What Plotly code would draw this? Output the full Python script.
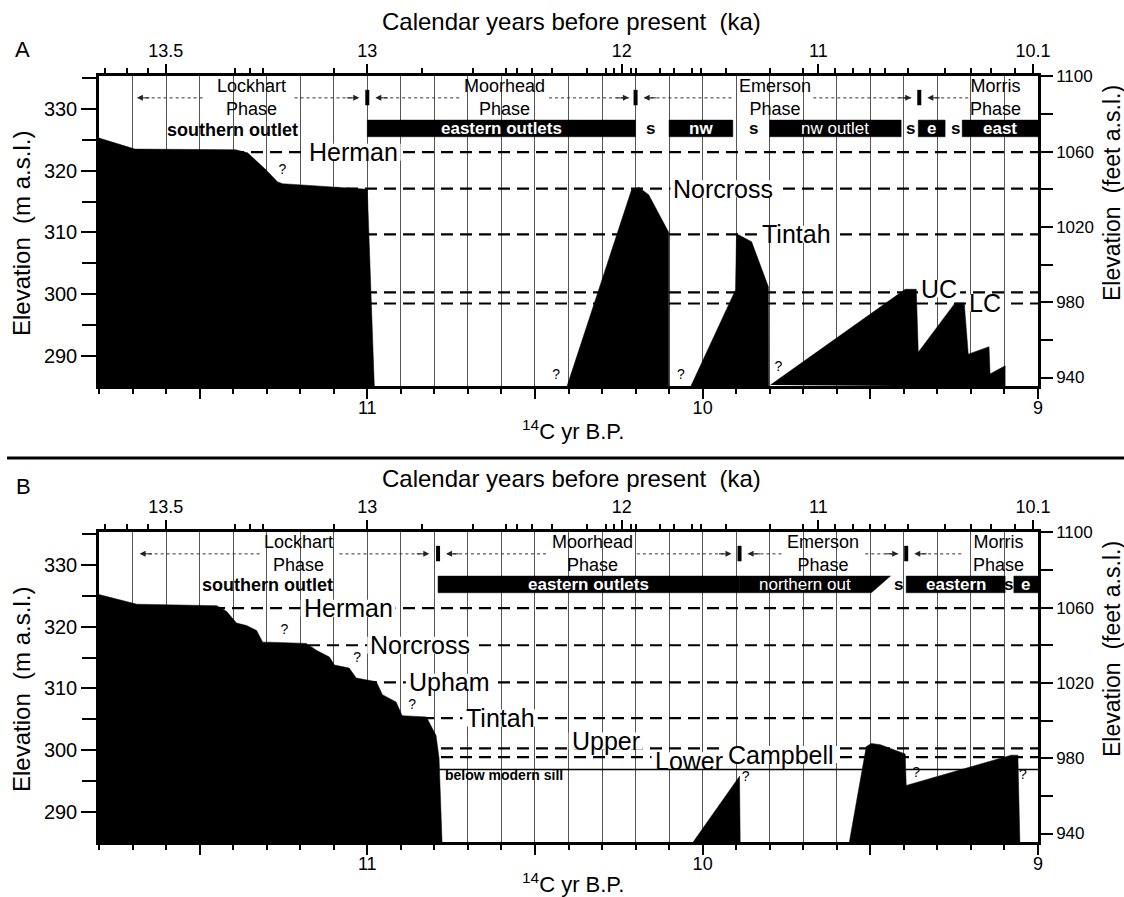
import plotly.graph_objects as go

# ------------------------------------------------------------------ data
# bottom axis: radiocarbon years BP
c14_tick_vals = [11500, 11000, 10500, 10000, 9500, 9000]
c14_tick_text = ["", "11", "", "10", "", "9"]

# top axis: calendar ages (ka), positioned on the 14C scale
cal_label_pos = [11601, 11000, 10241, 9655, 9015]
cal_label_text = ["13.5", "13", "12", "11", "10.1"]
cal_minor_pos = [11783, 11717, 11655, 11393, 11351, 11312, 11098,
                 10836, 10685, 10586, 10554, 10509, 10449, 10345, 10289,
                 10265, 10214, 10199, 10128, 10086, 10033, 10006, 9929,
                 9798, 9700, 9604, 9551, 9500, 9455, 9387, 9277, 9200,
                 9140, 9069]

m_tick_vals = [290, 300, 310, 320, 330]
ft_tick_vals = [940, 980, 1020, 1060, 1100]

phase_names = ["Lockhart", "Moorhead", "Emerson", "Morris"]

# ---------------- panel A
a_phase_bounds = [11000, 10200, 9354]
a_phase_label_x = [11345, 10592, 9783, 9128]
a_arrow_from = [11491, 11217, 10726, 10458, 9914, 9670, 9208]
a_arrow_to = [11687, 11024, 10976, 10220, 10176, 9378, 9330]
a_outlet_start = [11000, 10100, 9800, 9357, 9226]
a_outlet_end = [10200, 9910, 9408, 9277, 9000]
a_outlet_tail = [10200, 9910, 9408, 9277, 9000]
a_outlet_text = ["eastern outlets", "nw", "nw outlet", "e", "east"]
a_spill_x = [10155, 9848, 9381, 9247]
a_level_name = ["Herman", "Norcross", "Tintah", "UC", "LC"]
a_level_elev = [323.0, 317.1, 309.7, 300.3, 298.5]

a_lockhart_x = [11800, 11800, 11693, 11393, 11357, 11303, 11268, 11253, 11000, 10979]
a_lockhart_y = [285.0, 325.3, 323.5, 323.4, 322.9, 320.2, 318.2, 317.9, 317.0, 285.0]
a_norcross_x = [10405, 10212, 10190, 10161, 10101, 10101]
a_norcross_y = [285.0, 316.9, 317.3, 316.1, 310.0, 285.0]
a_tintah_x = [10036, 9902, 9899, 9854, 9804, 9803]
a_tintah_y = [285.0, 300.7, 309.8, 308.5, 301.2, 285.0]
a_campbell_x = [9798, 9396, 9363, 9357, 9247, 9220, 9208, 9146, 9143, 9098, 9098]
a_campbell_y = [285.3, 300.8, 300.8, 290.6, 298.6, 298.6, 290.3, 291.5, 287.1, 288.4, 285.0]
a_query_x = [11253, 10437, 10065, 9774]
a_query_y = [320.1, 286.9, 286.9, 288.2]

# ---------------- panel B
b_phase_bounds = [10789, 9890, 9393]
b_phase_label_x = [11205, 10327, 9640, 9119]
b_arrow_from = [11321, 11083, 10467, 10196, 9765, 9515, 9229]
b_arrow_to = [11679, 10815, 10765, 9914, 9866, 9417, 9369]
b_outlet_start = [10789, 9890, 9393, 9072]
b_outlet_end = [9890, 9497, 9098, 9000]
b_outlet_tail = [9890, 9440, 9098, 9000]
b_outlet_text = ["eastern outlets", "northern out", "eastern", "e"]
b_spill_x = [9417, 9087]
b_level_name = ["Herman", "Norcross", "Upham", "Tintah", "Upper", "Lower"]
b_level_elev = [323.0, 317.0, 311.0, 305.2, 300.3, 298.9]
b_sill_elev = 296.9

b_lockhart_x = [11800, 11800, 11687, 11449, 11420, 11390, 11360, 11330, 11312, 11292,
                11182, 11152, 11113, 11098, 11054, 11033, 10973, 10955, 10914, 10896,
                10824, 10795, 10786, 10777]
b_lockhart_y = [285.0, 325.2, 323.65, 323.4, 322.5, 320.6, 320.2, 319.4, 317.5, 317.5,
                317.3, 316.2, 315.1, 313.8, 313.3, 311.7, 311.1, 309.0, 307.8, 305.6,
                305.4, 302.4, 298.7, 285.0]
b_upham_x = [10030, 9890, 9888]
b_upham_y = [285.0, 295.8, 285.0]
b_campbell_x = [9563, 9512, 9497, 9470, 9396, 9393, 9080, 9060, 9054]
b_campbell_y = [285.0, 300.6, 301.1, 300.9, 299.4, 294.3, 299.2, 299.2, 285.0]
b_query_x = [11247, 11030, 10866, 9872, 9363, 9045]
b_query_y = [319.4, 314.9, 307.2, 295.6, 296.3, 295.9]

# ------------------------------------------------------------------ layout constants
W, H = 1124, 897
ML, MR, MT, MB = 99, 86, 76, 55
PW, PH = W - ML - MR, H - MT - MB
FONT = "Liberation Sans, Arial, Helvetica, sans-serif"
X_RANGE = [11800, 9000]
Y_RANGE = [285.14, 335.34]
M_PER_FT = 0.3048
YR_PER_PX = (X_RANGE[0] - X_RANGE[1]) / PW
M_PER_PX = (Y_RANGE[1] - Y_RANGE[0]) / 310.0
A_DOM = [(H - MB - 386) / PH, 1.0]
B_DOM = [0.0, (H - MB - 532) / PH]

ARROW_Y = 331.8
BAR_Y0, BAR_Y1 = 325.5, 328.2
MARK_Y0, MARK_Y1 = 330.6, 333.1
LABEL_FS = 25


def px(x):
    return (x - ML) / PW


def py(y):
    return (H - MB - y) / PH


CW = {'H': .722, 'e': .556, 'r': .333, 'm': .833, 'a': .556, 'n': .556, 'N': .722,
      'o': .556, 'c': .5, 's': .5, 'T': .611, 'i': .222, 't': .278, 'h': .556,
      'U': .722, 'C': .722, 'L': .556, 'p': .556, 'w': .722, 'u': .556, 'b': .556,
      'l': .222}

fig = go.Figure()
shapes = []
annotations = []


def mask(xr, yr, x, y, text, fs, hh=0.34):
    w = fs * sum(CW.get(c, .56) for c in text)
    hw = (w / 2 + 3) * YR_PER_PX
    hm = hh * fs * M_PER_PX
    return dict(type="rect", xref=xr, yref=yr, x0=x - hw, x1=x + hw, y0=y - hm, y1=y + hm,
                fillcolor="white", line=dict(width=0), layer="above")


def note(x, y, text, size, xref, yref, **kw):
    d = dict(x=x, y=y, xref=xref, yref=yref, text=text, showarrow=False,
             xanchor="center", yanchor="middle",
             font=dict(size=size, color=kw.pop("color", "black"), family=FONT))
    d.update(kw)
    return d


def draw_panel(xr, yr, xt, yft, levels, level_names, label_pos, curves, qx, qy,
               bounds, phase_x, arr_from, arr_to, o_start, o_end, o_tail, o_text,
               spill_x, south_pos, extra_labels=(), sill=None, sill_from=None):
    # dashed lake-level lines, plotted against the feet axis (same scale as metres)
    for lev in levels:
        fig.add_trace(go.Scatter(x=[X_RANGE[0], X_RANGE[1]],
                                 y=[lev / M_PER_FT, lev / M_PER_FT], mode="lines",
                                 line=dict(color="black", width=2.2, dash="12px,7px"),
                                 xaxis=xr, yaxis=yft, showlegend=False, hoverinfo="skip"))
    # lake level history (black fill)
    for cx, cy in curves:
        fig.add_trace(go.Scatter(x=cx, y=cy, mode="lines", fill="toself",
                                 fillcolor="black", line=dict(color="black", width=0.5),
                                 xaxis=xr, yaxis=yr, showlegend=False, hoverinfo="skip"))
    # question marks (top axis shares the same linear 14C scale)
    fig.add_trace(go.Scatter(x=qx, y=qy, mode="text", text=["?"] * len(qx),
                             textfont=dict(size=14, color="black", family=FONT),
                             xaxis=xt, yaxis=yr, showlegend=False, hoverinfo="skip"))
    # level labels + masks
    all_labels = list(zip(level_names, label_pos)) + list(extra_labels)
    for name, (lx, ly) in all_labels:
        shapes.append(mask(xr, yr, lx, ly, name, LABEL_FS))
        annotations.append(note(lx, ly, name, LABEL_FS, xr, yr))
    if sill is not None:
        shapes.append(dict(type="line", xref=xr, yref=yr, x0=sill_from, x1=X_RANGE[1],
                           y0=sill, y1=sill, line=dict(color="black", width=1.5),
                           layer="above"))
        annotations.append(note(10592, sill - 0.85, "<b>below modern sill</b>", 14, xr, yr))
    # phase boundaries
    for b in bounds:
        shapes.append(dict(type="line", xref=xr, yref=yr, x0=b, x1=b, y0=MARK_Y0, y1=MARK_Y1,
                           line=dict(color="black", width=4), layer="above"))
    for name, lx in zip(phase_names, phase_x):
        annotations.append(note(lx, ARROW_Y, name + "<br>Phase", 18, xr, yr))
    for a0, a1 in zip(arr_from, arr_to):
        shapes.append(dict(type="line", xref=xr, yref=yr, x0=a0, x1=a1, y0=ARROW_Y,
                           y1=ARROW_Y, line=dict(color="#333", width=1, dash="dot"),
                           layer="above"))
        annotations.append(dict(x=a1, y=ARROW_Y, ax=(-14 if a1 < a0 else 14), ay=0,
                                xref=xr, yref=yr, text="", showarrow=True, arrowhead=2,
                                arrowsize=1.2, arrowwidth=1, arrowcolor="#222"))
    # outlet bars
    for s0, s1, st, txt in zip(o_start, o_end, o_tail, o_text):
        path = f"M {s0},{BAR_Y0} L {s0},{BAR_Y1} L {st},{BAR_Y1} L {s1},{BAR_Y0} Z"
        shapes.append(dict(type="path", xref=xr, yref=yr, path=path, fillcolor="black",
                           line=dict(color="black", width=0.5), layer="above"))
        bold = txt not in ("northern out", "nw outlet")
        annotations.append(note((s0 + s1) / 2, (BAR_Y0 + BAR_Y1) / 2,
                                ("<b>%s</b>" % txt) if bold else txt, 17, xr, yr,
                                color="white"))
    for sx in spill_x:
        annotations.append(note(sx, (BAR_Y0 + BAR_Y1) / 2, "<b>s</b>", 17, xr, yr))
    annotations.append(note(south_pos[0], south_pos[1], "<b>southern outlet</b>", 18, xr, yr))


draw_panel("x", "y", "x2", "y2", a_level_elev, a_level_name,
           [(11042, 323.0), (9938, 317.1), (9720, 309.7), (9295, 300.9), (9158, 298.6)],
           [(a_lockhart_x, a_lockhart_y), (a_norcross_x, a_norcross_y),
            (a_tintah_x, a_tintah_y), (a_campbell_x, a_campbell_y)],
           a_query_x, a_query_y, a_phase_bounds, a_phase_label_x, a_arrow_from, a_arrow_to,
           a_outlet_start, a_outlet_end, a_outlet_tail, a_outlet_text, a_spill_x,
           (11402, 326.6))

draw_panel("x3", "y3", "x4", "y4", b_level_elev, b_level_name,
           [(11057, 323.0), (10842, 317.0), (10756, 311.0), (10604, 305.2),
            (10289, 301.5), (10042, 298.3)],
           [(b_lockhart_x, b_lockhart_y), (b_upham_x, b_upham_y),
            (b_campbell_x, b_campbell_y)],
           b_query_x, b_query_y, b_phase_bounds, b_phase_label_x, b_arrow_from, b_arrow_to,
           b_outlet_start, b_outlet_end, b_outlet_tail, b_outlet_text, b_spill_x,
           (11298, 326.8), extra_labels=[("Campbell", (9765, 299.3))],
           sill=b_sill_elev, sill_from=b_phase_bounds[0])

# separator between panels
shapes.append(dict(type="line", xref="paper", yref="paper", x0=px(7), x1=px(1124),
                   y0=py(458), y1=py(458), line=dict(color="black", width=3)))

# titles and panel letters
for top, bt in ((0, 430), (456, 883)):
    annotations.append(note(px(571), py(22 + top),
                            "Calendar years before present\u00a0\u00a0(ka)", 24,
                            "paper", "paper"))
    annotations.append(note(px(573), py(bt), "<sup>14</sup>C yr B.P.", 22,
                            "paper", "paper"))
    annotations.append(note(px(21), py(234 + top), "Elevation\u00a0\u00a0(m a.s.l.)", 24,
                            "paper", "paper", textangle=-90))
    annotations.append(note(px(1112), py(193 + top), "Elevation\u00a0\u00a0(feet a.s.l.)", 23,
                            "paper", "paper", textangle=-90))
annotations.append(note(px(22), py(50), "A", 22, "paper", "paper"))
annotations.append(note(px(23), py(487), "B", 22, "paper", "paper"))


def x_bottom(anchor):
    return dict(range=X_RANGE, anchor=anchor, domain=[0, 1], tickmode="array",
                tickvals=c14_tick_vals, ticktext=c14_tick_text, ticks="outside", ticklen=10,
                tickwidth=2, tickcolor="black", showline=True, linewidth=2.5, linecolor="black",
                mirror=True, showgrid=True, gridcolor="#555", gridwidth=1, zeroline=False,
                ticklabelstandoff=-6,
                tickfont=dict(size=18, color="black", family=FONT),
                minor=dict(tickmode="linear", dtick=100, tick0=0, ticks="outside", ticklen=5,
                           tickwidth=1.5, tickcolor="black", showgrid=True, gridcolor="#555",
                           gridwidth=1))


def x_top(overlay, anchor):
    return dict(range=X_RANGE, overlaying=overlay, anchor=anchor, side="top",
                tickmode="array", tickvals=cal_label_pos, ticktext=cal_label_text,
                ticks="outside", ticklen=9, tickwidth=2, tickcolor="black", showline=True,
                linewidth=2.5, linecolor="black", showgrid=False, zeroline=False,
                tickfont=dict(size=18, color="black", family=FONT),
                minor=dict(tickmode="array", tickvals=cal_minor_pos, ticks="outside",
                           ticklen=5, tickwidth=1.5, tickcolor="black", showgrid=False))


def y_left(anchor, dom):
    return dict(range=Y_RANGE, domain=dom, anchor=anchor, tickmode="array",
                tickvals=m_tick_vals, ticks="outside", ticklen=15, tickwidth=2,
                tickcolor="black", showline=True, linewidth=2.5, linecolor="black",
                mirror=True, showgrid=False, zeroline=False,
                tickfont=dict(size=20, color="black", family=FONT),
                minor=dict(tickmode="linear", dtick=5, tick0=0, ticks="outside", ticklen=14,
                           tickwidth=2, tickcolor="black"))


def y_right(overlay, anchor):
    return dict(range=[Y_RANGE[0] / M_PER_FT, Y_RANGE[1] / M_PER_FT], overlaying=overlay,
                anchor=anchor, side="right", tickmode="array", tickvals=ft_tick_vals,
                ticks="outside", ticklen=12, tickwidth=2, tickcolor="black", showline=True,
                linewidth=2.5, linecolor="black", showgrid=False, zeroline=False,
                tickfont=dict(size=17, color="black", family=FONT),
                minor=dict(tickmode="linear", dtick=20, tick0=0, ticks="outside", ticklen=12,
                           tickwidth=2, tickcolor="black"))


fig.update_layout(
    width=W, height=H,
    margin=dict(l=ML, r=MR, t=MT, b=MB),
    paper_bgcolor="white", plot_bgcolor="white",
    font=dict(family=FONT, color="black"),
    showlegend=False,
    xaxis=x_bottom("y"), xaxis2=x_top("x", "y"),
    yaxis=y_left("x", A_DOM), yaxis2=y_right("y", "x"),
    xaxis3=x_bottom("y3"), xaxis4=x_top("x3", "y3"),
    yaxis3=y_left("x3", B_DOM), yaxis4=y_right("y3", "x3"),
    shapes=shapes, annotations=annotations,
)

fig.write_html("out.html")
